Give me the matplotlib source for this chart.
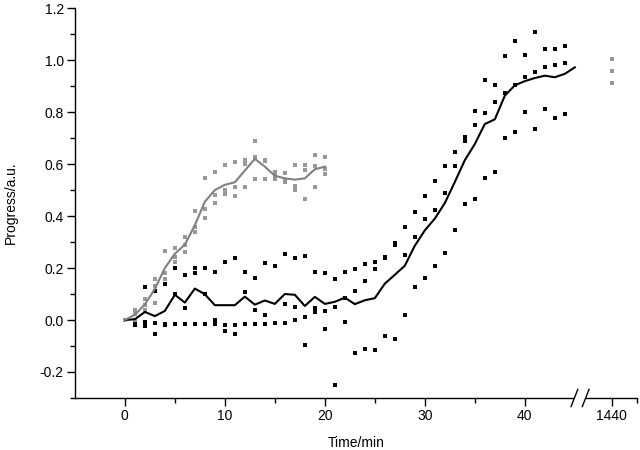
import numpy as np
import matplotlib
matplotlib.use('Agg')
import matplotlib.pyplot as plt
from matplotlib.lines import Line2D
from matplotlib.patches import Rectangle

plt.rcParams['font.family'] = ['Liberation Sans', 'DejaVu Sans']
plt.rcParams['axes.unicode_minus'] = False

# ---------------- data ----------------
grey_t = list(range(0, 21))
grey_mean = [0.0, 0.02, 0.06, 0.12, 0.20, 0.255, 0.29, 0.365, 0.455, 0.50, 0.52,
             0.53, 0.575, 0.62, 0.59, 0.555, 0.545, 0.54, 0.545, 0.58, 0.59]
grey_rep_a = [0.0, 0.037, 0.08, 0.157, 0.264, 0.276, 0.32, 0.418, 0.547, 0.57, 0.596,
              0.606, 0.616, 0.69, 0.616, 0.57, 0.565, 0.597, 0.597, 0.636, 0.628]
grey_rep_b = [0.0, 0.022, 0.058, 0.13, 0.18, 0.241, 0.29, 0.357, 0.426, 0.48, 0.50,
              0.51, 0.60, 0.626, 0.61, 0.553, 0.54, 0.516, 0.576, 0.593, 0.58]
grey_rep_c = [0.0, 0.0, 0.04, 0.065, 0.156, 0.222, 0.26, 0.338, 0.393, 0.451, 0.484,
              0.476, 0.51, 0.544, 0.544, 0.542, 0.531, 0.499, 0.465, 0.512, 0.56]
grey_late_t = 1440
grey_late = [1.005, 0.958, 0.91]

black_t = list(range(0, 46))
black_mean = [0.0, 0.003, 0.031, 0.015, 0.035, 0.097, 0.067, 0.121, 0.099, 0.057,
              0.057, 0.057, 0.09, 0.059, 0.075, 0.062, 0.10, 0.097, 0.054, 0.089,
              0.062, 0.07, 0.086, 0.061, 0.076, 0.084, 0.14, 0.174, 0.209, 0.286,
              0.345, 0.39, 0.45, 0.531, 0.615, 0.677, 0.754, 0.772, 0.863, 0.903,
              0.919, 0.931, 0.94, 0.934, 0.947, 0.972]
black_dot_t = list(range(0, 45))
black_rep_a = [0.0, 0.03, 0.128, 0.11, 0.138, 0.202, 0.173, 0.202, 0.20, 0.184,
               0.222, 0.237, 0.184, 0.16, 0.219, 0.206, 0.253, 0.237, 0.246, 0.184,
               0.181, 0.157, 0.186, 0.196, 0.215, 0.222, 0.244, 0.297, 0.357, 0.415,
               0.476, 0.534, 0.593, 0.647, 0.703, 0.806, 0.925, 0.906, 1.015, 1.073,
               1.02, 1.108, 1.041, 1.043, 1.055]
black_rep_b = [0.0, -0.005, -0.008, -0.013, -0.015, 0.10, 0.045, 0.179, 0.099, 0.0,
               -0.021, -0.02, 0.107, 0.037, 0.021, -0.01, 0.062, 0.051, 0.01, 0.048,
               0.034, 0.049, 0.084, 0.112, 0.15, 0.195, 0.238, 0.29, 0.25, 0.318,
               0.387, 0.424, 0.489, 0.593, 0.69, 0.75, 0.797, 0.839, 0.873, 0.905,
               0.934, 0.956, 0.972, 0.983, 0.989]
black_rep_c = [0.0, -0.02, -0.023, -0.055, -0.02, -0.017, -0.017, -0.017, -0.017, -0.017,
               -0.043, -0.053, -0.017, -0.017, -0.015, -0.01, -0.013, 0.001, -0.097, 0.032,
               -0.034, -0.249, -0.006, -0.126, -0.111, -0.117, -0.063, -0.075, 0.021, 0.128,
               0.162, 0.209, 0.259, 0.346, 0.448, 0.465, 0.548, 0.571, 0.699, 0.725,
               0.802, 0.735, 0.81, 0.776, 0.794]

x_major = [0, 10, 20, 30, 40, 1440]
x_minor = [5, 15, 25, 35]
y_major = [-0.2, 0.0, 0.2, 0.4, 0.6, 0.8, 1.0, 1.2]

# ---------------- broken x scale ----------------
BREAK_LO, POS_1440, SCALE_HI = 100.0, 48.7, 100.0

def fwd(x):
    x = np.asarray(x, dtype=float)
    return np.where(x <= BREAK_LO, x, POS_1440 + (x - 1440.0) / SCALE_HI)

def inv(y):
    y = np.asarray(y, dtype=float)
    return np.where(y <= 47.0, y, 1440.0 + (y - POS_1440) * SCALE_HI)

fig = plt.figure(figsize=(6.4, 4.5), dpi=100)
ax = fig.add_axes([0.117, 0.1156, 0.878, 0.8664])
ax.set_xscale('function', functions=(fwd, inv))
ax.set_xlim(-5, 1440 + (51.2 - POS_1440) * SCALE_HI)
ax.set_ylim(-0.3, 1.2)

dot_kw = dict(marker='s', linestyle='none', markersize=2.2, markeredgewidth=0)
for rep in (black_rep_a, black_rep_b, black_rep_c):
    ax.plot(black_dot_t, rep, color='black', **dot_kw)
for rep in (grey_rep_a, grey_rep_b, grey_rep_c):
    ax.plot(grey_t, rep, color='#999999', **dot_kw)
ax.plot([grey_late_t] * len(grey_late), grey_late, color='#999999', **dot_kw)

ax.plot(black_t, black_mean, color='black', lw=1.5)
ax.plot(grey_t, grey_mean, color='#808080', lw=1.5)

# spines / ticks
for s in ('top', 'right'):
    ax.spines[s].set_visible(False)
for s in ('left', 'bottom'):
    ax.spines[s].set_linewidth(1.0)

ax.set_xticks(x_major)
ax.set_xticklabels([str(v) for v in x_major])
ax.set_xticks(x_minor + [1690], minor=True)
ax.set_yticks(y_major)
ax.set_yticklabels(['%.1f' % v for v in y_major])
ax.set_yticks(np.round(np.arange(-0.3, 1.21, 0.1), 2), minor=True)
ax.tick_params(which='major', direction='out', length=6, width=1, labelsize=10, pad=2)
ax.tick_params(which='minor', direction='out', length=3.5, width=1)

ax.set_xlabel('Time/min', fontsize=10, labelpad=9)
ax.set_ylabel('Progress/a.u.', fontsize=10, labelpad=16)

# axis break marks
tr = ax.transAxes
b1, b2 = 0.889, 0.909
ax.add_patch(Rectangle((b1, -0.01), b2 - b1, 0.02, transform=tr, facecolor='white',
                       edgecolor='none', clip_on=False, zorder=5))
for bx in (b1, b2):
    ax.add_line(Line2D([bx - 0.006, bx + 0.006], [-0.022, 0.022], transform=tr,
                       color='black', lw=1.0, clip_on=False, zorder=6))

fig.savefig('out.png', dpi=100)
